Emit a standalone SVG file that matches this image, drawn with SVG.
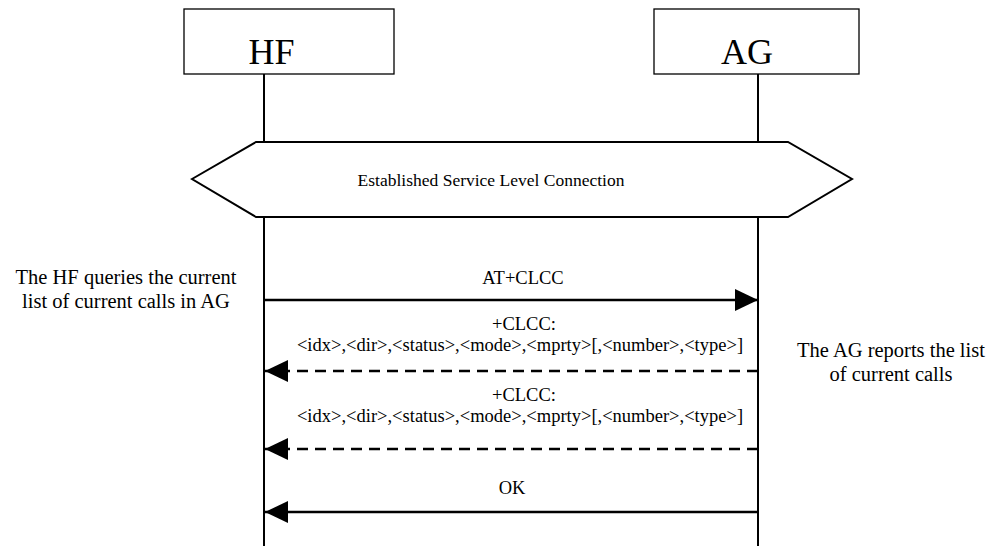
<svg xmlns="http://www.w3.org/2000/svg" width="986" height="546" viewBox="0 0 986 546">
  <style>
    .box { fill: #ffffff; stroke: #000000; stroke-width: 1.3; }
    .life { stroke: #000000; stroke-width: 2; fill: none; }
    .hex { fill: #ffffff; stroke: #000000; stroke-width: 2; }
    .msg { stroke: #000000; stroke-width: 2.6; fill: none; }
    .dash { stroke-dasharray: 11 7; }
    .ent { font-family: "Liberation Serif", "Times New Roman", serif; font-size: 36px; fill: #000000; }
    .lbl { font-family: "Liberation Serif", "Times New Roman", serif; font-size: 18.5px; fill: #000000; text-anchor: middle; }
    .note { font-family: "Liberation Serif", "Times New Roman", serif; font-size: 20.5px; fill: #000000; text-anchor: middle; }
    .hext { font-family: "Liberation Serif", "Times New Roman", serif; font-size: 17.5px; fill: #000000; text-anchor: middle; }
  </style>
  <defs>
    <marker id="head" viewBox="0 0 23 22" refX="23" refY="11" markerWidth="23" markerHeight="22" markerUnits="userSpaceOnUse" orient="auto">
      <path d="M0,0 L23,11 L0,22 Z" fill="#000000"/>
    </marker>
  </defs>

  <!-- lifelines -->
  <g id="lifelines">
    <line class="life" x1="264" y1="74" x2="264" y2="546"/>
    <line class="life" x1="758" y1="74" x2="758" y2="546"/>
  </g>

  <g id="hf">
    <rect class="box" x="184" y="9" width="210" height="65"/>
    <text class="ent" x="271.5" y="64" text-anchor="middle">HF</text>
  </g>

  <g id="ag">
    <rect class="box" x="654" y="9" width="205" height="65"/>
    <text class="ent" x="747" y="64" text-anchor="middle">AG</text>
  </g>

  <g id="slc">
    <polygon class="hex" points="192,179 256,142 788,142 852,179 788,217 256,217"/>
    <text class="hext" x="491" y="186">Established Service Level Connection</text>
  </g>

  <!-- messages -->
  <g id="connectors">
    <line class="msg" x1="264" y1="300" x2="758" y2="300" marker-end="url(#head)"/>
    <line class="msg dash" x1="758" y1="371" x2="265" y2="371" marker-end="url(#head)"/>
    <line class="msg dash" x1="758" y1="449" x2="265" y2="449" marker-end="url(#head)"/>
    <line class="msg" x1="758" y1="512" x2="265" y2="512" marker-end="url(#head)"/>
  </g>

  <g id="labels">
    <text class="lbl" x="523" y="284">AT+CLCC</text>
    <text class="lbl" x="524" y="330">+CLCC:</text>
    <text class="lbl" x="520" y="351">&lt;idx&gt;,&lt;dir&gt;,&lt;status&gt;,&lt;mode&gt;,&lt;mprty&gt;[,&lt;number&gt;,&lt;type&gt;]</text>
    <text class="lbl" x="524" y="401">+CLCC:</text>
    <text class="lbl" x="520" y="422">&lt;idx&gt;,&lt;dir&gt;,&lt;status&gt;,&lt;mode&gt;,&lt;mprty&gt;[,&lt;number&gt;,&lt;type&gt;]</text>
    <text class="lbl" x="512" y="494">OK</text>
  </g>

  <g id="notes">
    <text class="note" x="126" y="284">The HF queries the current</text>
    <text class="note" x="126" y="308">list of current calls in AG</text>
    <text class="note" x="891" y="357">The AG reports the list</text>
    <text class="note" x="891" y="381">of current calls</text>
  </g>
</svg>
